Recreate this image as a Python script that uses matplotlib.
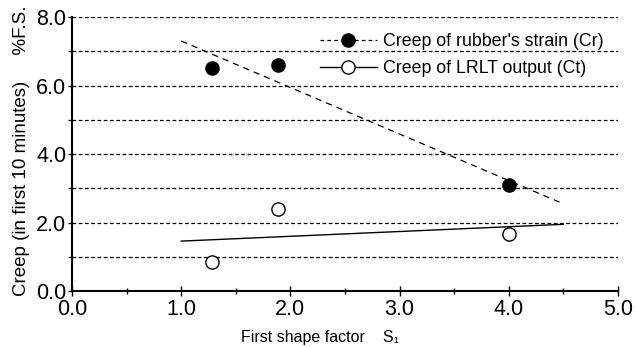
import numpy as np
import matplotlib
matplotlib.use("Agg")
import matplotlib.pyplot as plt
from matplotlib.ticker import MultipleLocator

plt.rcParams['font.family'] = ['Liberation Sans', 'DejaVu Sans']

# measured creep values
s1 = [1.28, 1.89, 4.0]
creep_rubber = [6.52, 6.60, 3.10]
creep_lrlt = [0.84, 2.41, 1.68]

# trend lines
fit_x = [1.0, 4.5]
fit_rubber = [7.30, 2.55]
fit_lrlt = [1.46, 1.95]

fig = plt.figure(figsize=(6.37, 3.47), dpi=100)
ax = fig.add_axes([0.113, 0.161, 0.857, 0.790])

for y in range(1, 9):
    ax.axhline(y, color='black', lw=0.9, ls=(0, (3, 2)), zorder=1)

ax.plot(fit_x, fit_rubber, color='black', lw=0.9, ls=(0, (5, 4)), zorder=2)
ax.plot(fit_x, fit_lrlt, color='black', lw=1.0, zorder=2)
ax.plot(s1, creep_rubber, 'o', color='black', ms=9.5, zorder=3)
ax.plot(s1, creep_lrlt, 'o', mfc='white', mec='black', mew=1.0, ms=9.5, zorder=3)

# legend handles
h1, = ax.plot([], [], color='black', lw=0.9, ls=(0, (3, 2.5)), marker='o', ms=9.5)
h2, = ax.plot([], [], color='black', lw=1.0, marker='o', mfc='white', mec='black', ms=9.5)
ax.legend([h1, h2], ["Creep of rubber's strain (Cr)", "Creep of LRLT output (Ct)"],
          loc='upper left', bbox_to_anchor=(0.454, 0.94), frameon=False,
          fontsize=12.8, handlelength=3.2, handletextpad=0.35, labelspacing=0.55,
          borderaxespad=0, borderpad=0)

ax.set_xlim(0, 5)
ax.set_ylim(0, 8)
ax.xaxis.set_major_locator(MultipleLocator(1.0))
ax.xaxis.set_minor_locator(MultipleLocator(0.5))
ax.yaxis.set_major_locator(MultipleLocator(2.0))
ax.yaxis.set_minor_locator(MultipleLocator(1.0))
ax.xaxis.set_major_formatter(plt.FormatStrFormatter('%.1f'))
ax.yaxis.set_major_formatter(plt.FormatStrFormatter('%.1f'))

ax.spines['top'].set_visible(False)
ax.spines['right'].set_visible(False)
ax.spines['left'].set_linewidth(1.5)
ax.spines['bottom'].set_linewidth(1.5)
ax.tick_params(axis='x', which='major', direction='inout', length=7, width=1, labelsize=15.5, pad=2)
ax.tick_params(axis='x', which='minor', direction='inout', length=5, width=1)
ax.tick_params(axis='y', which='major', direction='out', length=3, width=1, labelsize=15.5, pad=1)
ax.tick_params(axis='y', which='minor', direction='out', length=3, width=0.9)

fig.text(0.033, 0.565, "Creep (in first 10 minutes)     %F.S.", rotation=90,
         ha='center', va='center', fontsize=13.5)
fig.text(0.503, 0.026, "First shape factor    S\u2081", ha='center', va='center', fontsize=11.5)

fig.savefig("out.png", dpi=100)
